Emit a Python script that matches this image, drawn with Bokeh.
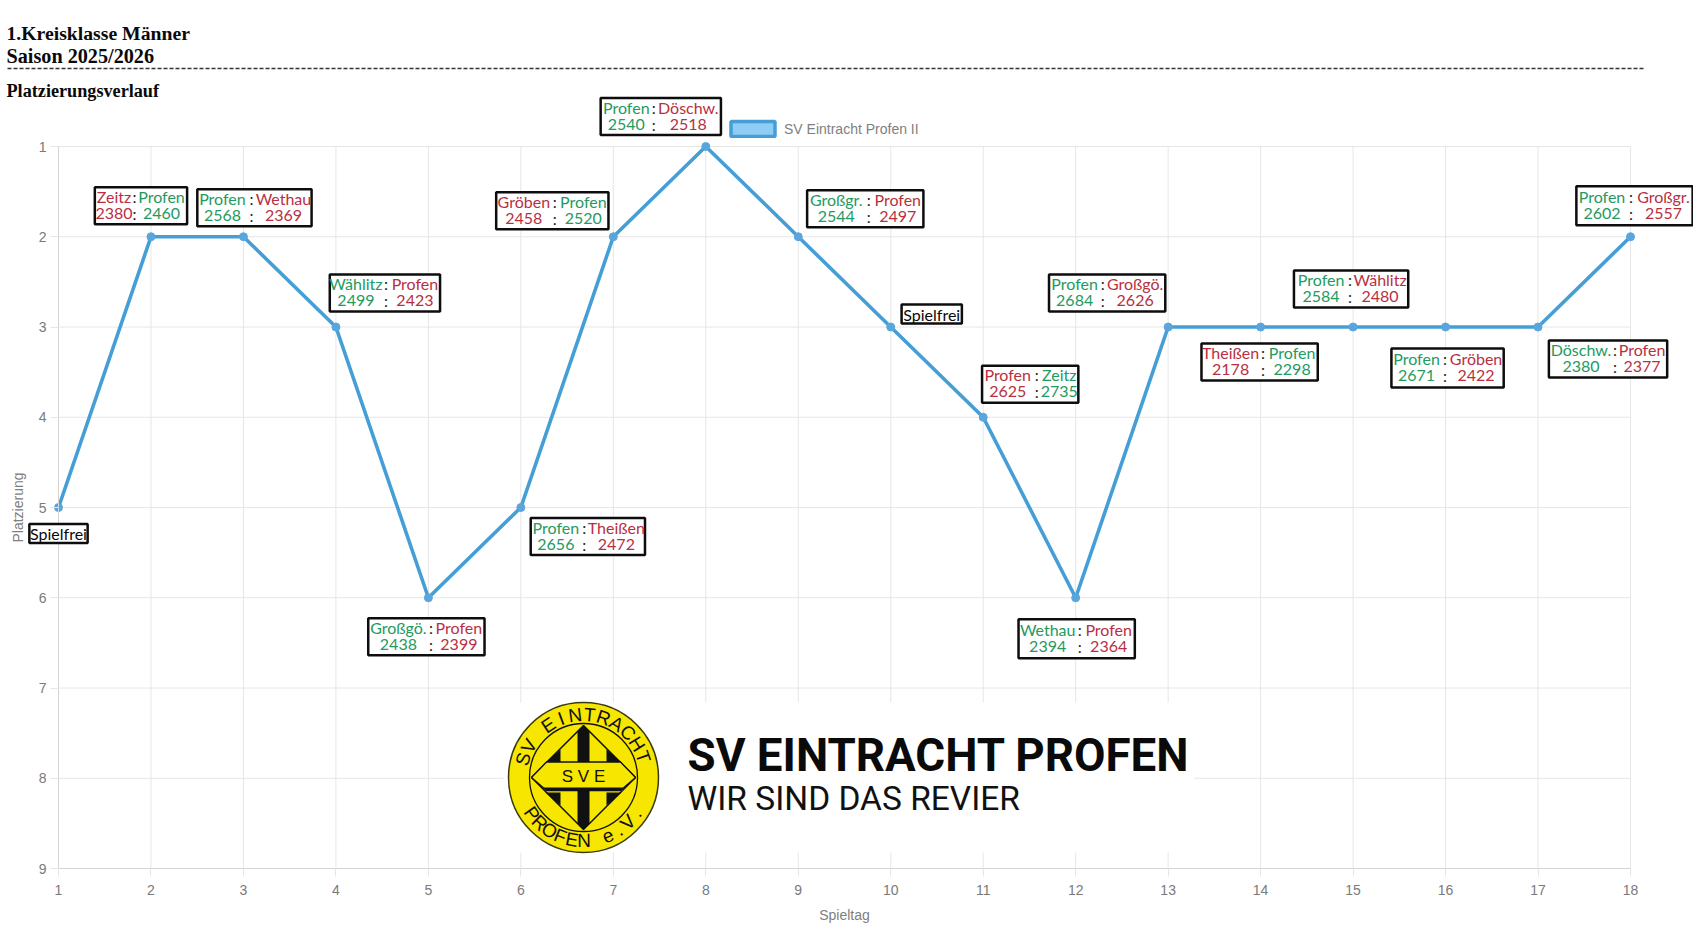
import math
from bokeh.plotting import figure
from bokeh.embed import file_html
from bokeh.resources import INLINE
from bokeh.core.properties import value
from bokeh.models import Label, Arrow, Legend, LegendItem, FixedTicker, ColumnDataSource, LinearAxis

# ---------- data ----------
spieltag = list(range(1, 19))
platz = [5, 2, 2, 3, 6, 5, 2, 1, 2, 3, 4, 6, 3, 3, 3, 3, 3, 2]
heim = [None, "Zeitz", "Profen", "Wählitz", "Großgö.", "Profen", "Gröben", "Profen", "Großgr.",
        None, "Profen", "Wethau", "Profen", "Theißen", "Profen", "Profen", "Döschw.", "Profen"]
gast = [None, "Profen", "Wethau", "Profen", "Profen", "Theißen", "Profen", "Döschw.", "Profen",
        None, "Zeitz", "Profen", "Großgö.", "Profen", "Wählitz", "Gröben", "Profen", "Großgr."]
heim_holz = [None, 2380, 2568, 2499, 2438, 2656, 2458, 2540, 2544,
             None, 2625, 2394, 2684, 2178, 2584, 2671, 2380, 2602]
gast_holz = [None, 2460, 2369, 2423, 2399, 2472, 2520, 2518, 2497,
             None, 2735, 2364, 2626, 2298, 2480, 2422, 2377, 2557]
x_ticks = list(range(1, 19))
y_ticks = list(range(1, 10))
serie = "SV Eintracht Profen II"

# ---------- layout (pixels) ----------
box_dx = [0, -10, 11, 49, -2, 67, -61, -45, 67, 41, 47, 1, -61, -1, -2, 2, 70, 4]
box_dy = [26, -31, -29, -34, 39, 29, -26, -30, -28, -13, -33, 41, -34, 35, -38, 41, 32, -31]
box_w = [59, 92, 115, 111, 116, 115, 113, 120, 117, 60, 97, 116, 116, 116, 114, 113, 119, 117]
box_h = [18, 36, 37, 37, 37, 37, 36, 36, 37, 18, 36, 38, 37, 36, 37, 39, 37, 39]
name_w = {"Profen": 47, "Zeitz": 34, "Wethau": 53, "Wählitz": 49, "Großgö.": 56,
          "Theißen": 54, "Gröben": 52, "Döschw.": 61, "Großgr.": 54}
GREEN, RED = "#239a60", "#b8303f"
BLUE = "#459fd6"
W, H = 1693, 934
F_L, F_T, F_W, F_H = 58, 146, 1572, 722


def fx(px):
    return 1 + (px - F_L) * 17 / F_W


def fy(py):
    return 1 + (py - F_T) * 8 / F_H


p = figure(width=W, height=H, output_backend="svg", toolbar_location=None,
           x_range=(fx(0), fx(W)), y_range=(fy(H), fy(0)),
           x_axis_type=None, y_axis_type=None, min_border=0)
p.outline_line_color = None
p.background_fill_color = "white"
p.grid.visible = False

GRID = "#e6e6e6"
p.segment(x0=x_ticks, x1=x_ticks, y0=[min(y_ticks)] * 18, y1=[max(y_ticks)] * 18, line_color=GRID, line_width=1)
p.segment(x0=[min(x_ticks)] * 9, x1=[max(x_ticks)] * 9, y0=y_ticks, y1=y_ticks, line_color=GRID, line_width=1)

x_axis = LinearAxis(fixed_location=max(y_ticks), bounds=(1, 18), axis_label="Spieltag", major_label_standoff=8, axis_label_standoff=9)
y_axis = LinearAxis(fixed_location=min(x_ticks), bounds=(1, 9), axis_label="Platzierung", major_label_standoff=4, axis_label_standoff=10)
for ax, ticks, side in ((x_axis, x_ticks, "below"), (y_axis, y_ticks, "left")):
    ax.ticker = FixedTicker(ticks=ticks)
    ax.minor_tick_line_color = None
    ax.major_tick_in = 0
    ax.major_tick_out = 8
    ax.major_tick_line_color = GRID
    ax.axis_line_color = "#d4d4d4"
    ax.major_label_text_font = "Liberation Sans"
    ax.major_label_text_font_size = "14px"
    ax.major_label_text_color = "#7a7a7a"
    ax.major_label_text_font_style = "normal"
    ax.axis_label_text_font = "Liberation Sans"
    ax.axis_label_text_font_size = "14px"
    ax.axis_label_text_font_style = "normal"
    ax.axis_label_text_color = "#808080"
    p.add_layout(ax, side)

# ---------- logo ----------
p.quad(left=[fx(503)], right=[fx(1194)], top=[fy(702)], bottom=[fy(852)],
       fill_color="white", line_color=None)
CX, CY = 583, 777
YEL, BLK = "#f7e600", "#111111"
p.scatter(x=[fx(CX)], y=[fy(CY)], size=150, marker="circle", fill_color=YEL, line_color="#3a3a10", line_width=1.5)
p.scatter(x=[fx(CX)], y=[fy(CY)], size=108, marker="circle", fill_color=None, line_color=BLK, line_width=1.3)


def poly(pts, fill, line=None, lw=1.0):
    p.patch([fx(CX + a) for a, b in pts], [fy(CY + b) for a, b in pts],
            fill_color=fill, line_color=line, line_width=lw)


poly([(-52, 0), (0, -52), (52, 0), (0, 52)], YEL, BLK, 1.5)
poly([(0, -52), (6, -46), (6, 12), (-6, 12), (-6, -46)], BLK)
poly([(0, 52), (6, 46), (6, -12), (-6, -12), (-6, 46)], BLK)
for sx, sy in ((-1, -1), (1, -1), (-1, 1), (1, 1)):
    poly([(sx * 38, sy * 15), (sx * 23, sy * 15), (sx * 23, sy * 28)], BLK)
poly([(-52, 0), (-37, -15.5), (37, -15.5), (52, 0), (37, 13), (-37, 13)], YEL, BLK, 1.3)
poly([(-40, 10), (40, 10), (37, 13), (-37, 13)], BLK)
p.text(x=[fx(CX)], y=[fy(CY - 1)], text=["S V E"], text_align="center", text_baseline="middle",
       text_font=value("Liberation Sans"), text_font_size="17px", text_color=BLK)


def arc(letters, a0, a1, top, R):
    n = len(letters) - 1
    for k, ch in enumerate(letters):
        if ch == " ":
            continue
        th = math.radians(a0 + (a1 - a0) * k / n)
        px = CX + R * math.sin(th)
        py = CY + (-R * math.cos(th) if top else R * math.cos(th))
        p.text(x=[fx(px)], y=[fy(py)], text=[ch], angle=[-th if top else th],
               text_align="center", text_baseline="middle",
               text_font=value("Liberation Sans"), text_font_size="19px", text_color=BLK)


arc("SV EINTRACHT", -73, 71, True, 63)
arc("PROFEN e.V.", -55, 56, False, 63)

p.text(x=[fx(687)], y=[fy(755)], text=["SV EINTRACHT PROFEN"], text_baseline="middle",
       text_font=value("Roboto"), text_font_style="bold", text_font_size="45.7px", text_color="#0a0a0a")
p.text(x=[fx(687)], y=[fy(798)], text=["WIR SIND DAS REVIER"], text_baseline="middle",
       text_font=value("Roboto"), text_font_size="33.5px", text_color="#111111")

# ---------- series ----------
src = ColumnDataSource(dict(x=spieltag, y=platz))
p.line("x", "y", source=src, line_color=BLUE, line_width=3.6)
p.scatter("x", "y", source=src, size=8, marker="circle", fill_color="#5aa6dc", line_color="#5aa6dc")

# legend: a series entry whose swatch has no position on the chart
nan = float("nan")
swatch = p.quad(left=[nan], right=[nan], top=[nan], bottom=[nan], fill_color="#8fcdf5", line_color=BLUE, line_width=3.5)
legend = Legend(items=[LegendItem(label=serie, renderers=[swatch])], location=(725, H - 138),
                glyph_width=55, glyph_height=19, label_standoff=4, padding=0, margin=0,
                border_line_color=None, background_fill_alpha=0,
                label_text_font="Liberation Sans", label_text_font_size="14px", label_text_color="#808080")
p.add_layout(legend, "center")


def txt(text, x, y, dx, dy, color, align="center", size="16px", font="Lato", style="normal"):
    p.add_layout(Label(x=x, y=y, x_offset=dx, y_offset=-dy, text=text, text_color=color,
                       text_align=align, text_baseline="middle", text_font=font,
                       text_font_size=size, text_font_style=style))


# ---------- header ----------
for t, yy, sz in (("1.Kreisklasse Männer", 32, "19.7px"), ("Saison 2025/2026", 55, "20.2px"),
                  ("Platzierungsverlauf", 90, "18.2px")):
    txt(t, 1, 1, 6 - F_L, yy - F_T, "#0a0a0a", "left", sz, "Liberation Serif", "bold")
p.add_layout(Arrow(end=None, x_start=fx(7), y_start=fy(68), x_end=fx(1643), y_end=fy(68),
                   line_color="#333333", line_width=1.5, line_dash="4 2"))

# ---------- game boxes ----------
for i in range(18):
    x, y = spieltag[i], platz[i]
    dx, dy, w, h = box_dx[i], box_dy[i], box_w[i], box_h[i]
    p.add_layout(Label(x=x, y=y, x_offset=dx, y_offset=-dy, text=" ", text_font_size="1px",
                       text_align="center", text_baseline="middle", anchor="center",
                       padding=(w // 2, w // 2, h // 2, h // 2),
                       background_fill_color="white", border_line_color="#0d0d0d", border_line_width=2.5))
    if heim[i] is None:
        txt("Spielfrei", x, y, dx, dy, "#0a0a0a")
        continue
    hw, aw = name_w[heim[i]], name_w[gast[i]]
    hc, ac = (RED, GREEN) if heim_holz[i] < gast_holz[i] else (GREEN, RED)
    colon = dx + (hw - aw) / 2
    gap = min(5.5, (w - hw - aw - 4) / 2)
    hx, ax_ = colon - gap - hw / 2, colon + gap + aw / 2
    txt(heim[i], x, y, hx, dy - 9.5, hc)
    txt(":", x, y, colon, dy - 9.5, "#222222")
    txt(gast[i], x, y, ax_, dy - 9.5, ac)
    txt(str(heim_holz[i]), x, y, hx, dy + 7.5, hc)
    txt(":", x, y, colon, dy + 7.5, "#222222")
    txt(str(gast_holz[i]), x, y, ax_, dy + 7.5, ac)

open("out.html", "w").write(file_html(p, INLINE))
